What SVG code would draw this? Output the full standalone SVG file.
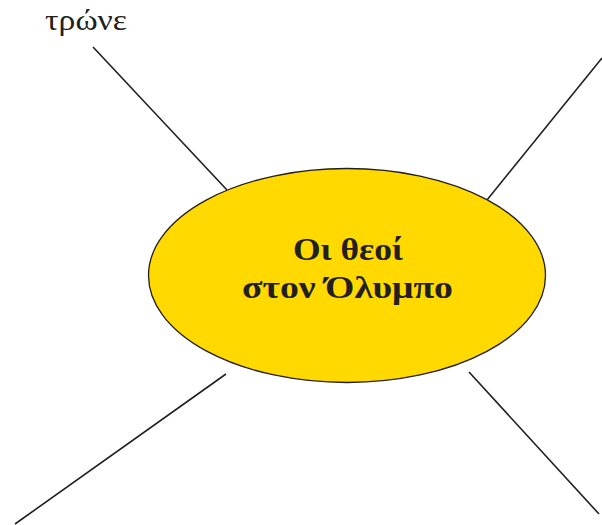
<svg xmlns="http://www.w3.org/2000/svg" width="602" height="525" viewBox="0 0 602 525">
<style>
.ln{stroke:#231f20;stroke-width:1.6;fill:none}
.lbl{font-family:"Liberation Serif","DejaVu Serif",serif;fill:#231f20}
.ttl{font-family:"Liberation Serif","DejaVu Serif",serif;font-weight:bold;font-size:31px;fill:#231f20}
</style>
<rect width="602" height="525" fill="#ffffff"/>
<g id="connectors">
<line class="ln" x1="93" y1="47" x2="227" y2="190"/>
<line class="ln" x1="602" y1="58" x2="487" y2="200"/>
<line class="ln" x1="226" y1="374" x2="15" y2="524"/>
<line class="ln" x1="469" y1="372" x2="599" y2="514"/>
</g>
<g id="center">
<ellipse cx="347" cy="275.5" rx="198.5" ry="107" fill="#ffd900" stroke="#231f20" stroke-width="1.3"/>
<text class="ttl" x="293" y="260" textLength="110" lengthAdjust="spacingAndGlyphs">Οι θεοί</text>
<text class="ttl" x="242" y="298" textLength="211" lengthAdjust="spacingAndGlyphs">στον Όλυμπο</text>
</g>
<g id="label-top-left">
<text class="lbl" x="45" y="30" font-size="29" textLength="82" lengthAdjust="spacingAndGlyphs">τρώνε</text>
</g>
</svg>
